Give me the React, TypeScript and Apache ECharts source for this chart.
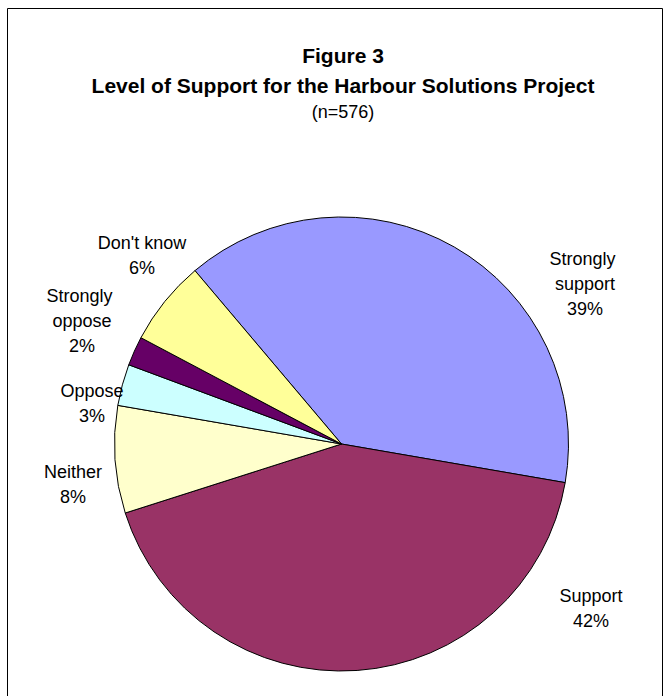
import React, { useEffect, useRef } from "react";
import * as echarts from "echarts";

// Categories (clockwise from the top-left) and respondent counts (n = 576)
const CATEGORIES = [
  "Strongly support",
  "Support",
  "Neither",
  "Oppose",
  "Strongly oppose",
  "Don't know",
];
const COUNTS = [224, 244, 44, 17, 12, 35];
const COLORS = ["#9999FF", "#993366", "#FFFFCC", "#CCFFFF", "#660066", "#FFFF99"];

const TITLE = "Figure 3\nLevel of Support for the Harbour Solutions Project";
const SUBTITLE = "(n=576)";

// label anchor points (layout only)
const LABEL_X = [585, 591, 73, 92, 82, 142];
const LABEL_Y = [284, 608, 484, 403, 321, 255];

const FONT = "'Liberation Sans', Arial, Helvetica, sans-serif";

export default function App() {
  const ref = useRef<HTMLDivElement>(null);

  useEffect(() => {
    if (!ref.current) return;
    const chart = echarts.init(ref.current, null, { renderer: "svg" });
    const data = CATEGORIES.map((name, i) => ({
      name,
      value: COUNTS[i],
      itemStyle: { color: COLORS[i] },
    }));
    chart.setOption({
      animation: false,
      backgroundColor: "#ffffff",
      title: {
        text: TITLE,
        subtext: SUBTITLE,
        left: 343,
        textAlign: "center",
        top: 40,
        itemGap: 1,
        padding: 0,
        textStyle: {
          fontFamily: FONT,
          fontSize: 21,
          fontWeight: "bold",
          color: "#000",
          lineHeight: 30,
        },
        subtextStyle: {
          fontFamily: FONT,
          fontSize: 18,
          color: "#000",
          lineHeight: 22,
        },
      },
      graphic: [
        {
          type: "rect",
          shape: { x: 7.5, y: 8.5, width: 655, height: 700 },
          style: { fill: "none", stroke: "#000", lineWidth: 1 },
          silent: true,
        },
      ],
      series: [
        {
          type: "pie",
          center: [341.5, 444],
          radius: 227,
          startAngle: 130.2,
          clockwise: true,
          percentPrecision: 0,
          avoidLabelOverlap: false,
          data,
          itemStyle: { borderColor: "#000", borderWidth: 1 },
          emphasis: { disabled: true },
          label: {
            show: true,
            position: "outside",
            formatter: "{b}\n{d}%",
            width: 92,
            overflow: "break",
            align: "center",
            fontFamily: FONT,
            fontSize: 18,
            lineHeight: 25,
            color: "#000",
          },
          labelLine: { show: false },
          labelLayout: (params: any) => ({
            x: LABEL_X[params.dataIndex],
            y: LABEL_Y[params.dataIndex],
            align: "center",
            verticalAlign: "middle",
          }),
        },
      ],
    });
    return () => chart.dispose();
  }, []);

  return (
    <div
      ref={ref}
      style={{ position: "absolute", left: 0, top: 0, width: 670, height: 696 }}
    />
  );
}
